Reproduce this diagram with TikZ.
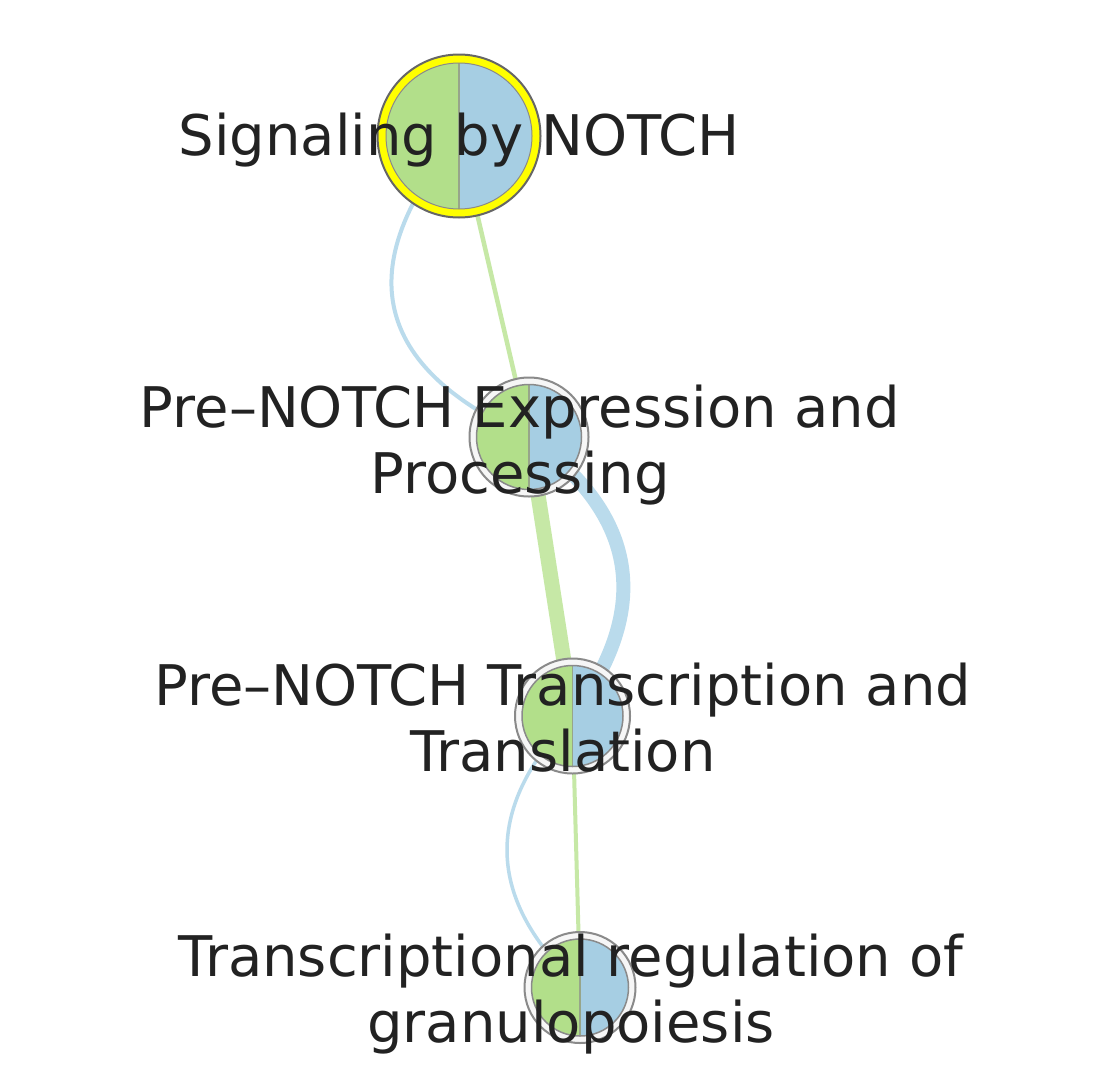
\documentclass[tikz,border=0pt]{standalone}
\usepackage{fontspec}
\setmainfont{DejaVu Sans}
\usetikzlibrary{calc}
\definecolor{piegreen}{HTML}{B2DF8A}
\definecolor{pieblue}{HTML}{A6CEE3}
\definecolor{edgegreen}{HTML}{C6E8A6}
\definecolor{edgeblue}{HTML}{BADBEC}
\definecolor{labeltext}{HTML}{222222}
\definecolor{ringgray}{HTML}{8A8A8A}
\definecolor{divider}{HTML}{97A58A}
\definecolor{selyellow}{HTML}{FFFF00}
\newcommand{\piecircle}[2]{% centre name, pie radius
  \fill[piegreen] ($(#1)+(0,-#2)$) arc[start angle=-90,end angle=-270,radius=#2] -- cycle;
  \fill[pieblue] ($(#1)+(0,-#2)$) arc[start angle=-90,end angle=90,radius=#2] -- cycle;
  \draw[divider,line width=1.4] ($(#1)+(0,-#2)$) -- ($(#1)+(0,#2)$);
}
\tikzset{
  lbl/.style={inner sep=0pt,anchor=base,text=labeltext,font=\fontsize{56}{66}\selectfont},
  gedge/.style={draw=edgegreen},
  bedge/.style={draw=edgeblue},
  pt/.style={inner sep=0pt,minimum size=0pt},
  whitering/.style={draw=white!93!gray,line width=6},
  ringline/.style={draw=ringgray}
}
\begin{document}
\begin{tikzpicture}[x=1pt,y=-1pt]
\useasboundingbox (0,0) rectangle (1094,1076);
\fill[white] (0,0) rectangle (1094,1076);
% node centres
\node[pt] (n1) at (459,136) {};
\node[pt] (n2) at (529,437) {};
\node[pt] (n3) at (572.5,716) {};
\node[pt] (n4) at (580,987.5) {};
% edges
\draw[gedge,line width=4.5] (n1.center) -- (n2.center);
\draw[bedge,line width=4] (n1.center) .. controls (349.7,267.3) and (373,367.7) .. (n2.center);
\draw[gedge,line width=15] (n2.center) -- (n3.center);
\draw[bedge,line width=14] (n2.center) .. controls (638.2,515.4) and (652.5,608.4) .. (n3.center);
\draw[gedge,line width=4] (n3.center) -- (n4.center);
\draw[bedge,line width=3.5] (n3.center) .. controls (482.7,809) and (485.3,899.4) .. (n4.center);
% node 1 (selected)
\piecircle{n1}{73}
\draw[selyellow,line width=8] (n1) circle[radius=77];
\draw[ringgray,line width=1] (n1) circle[radius=73];
\draw[black!60,line width=2] (n1) circle[radius=81.5];
% node 2
\piecircle{n2}{52.5}
\draw[whitering] (n2) circle[radius=56];
\draw[ringline,line width=1.5] (n2) circle[radius=52.5];
\draw[ringline,line width=2] (n2) circle[radius=59.5];
% node 3
\piecircle{n3}{50.5}
\draw[whitering] (n3) circle[radius=54];
\draw[ringline,line width=1.5] (n3) circle[radius=50.5];
\draw[ringline,line width=2] (n3) circle[radius=57.5];
% node 4
\piecircle{n4}{48.5}
\draw[whitering] (n4) circle[radius=52];
\draw[ringline,line width=1.5] (n4) circle[radius=48.5];
\draw[ringline,line width=2] (n4) circle[radius=55.5];
% labels
\node[lbl] (l1) at (459,155) {Signaling by NOTCH};
\node[lbl] (l2) at (520,427) {\begin{tabular}[t]{@{}c@{}}Pre–NOTCH Expression and\\Processing\end{tabular}};
\node[lbl] (l3) at (563,705) {\begin{tabular}[t]{@{}c@{}}Pre–NOTCH Transcription and\\Translation\end{tabular}};
\node[lbl] (l4) at (571,976) {\begin{tabular}[t]{@{}c@{}}Transcriptional regulation of\\granulopoiesis\end{tabular}};
\end{tikzpicture}
\end{document}
